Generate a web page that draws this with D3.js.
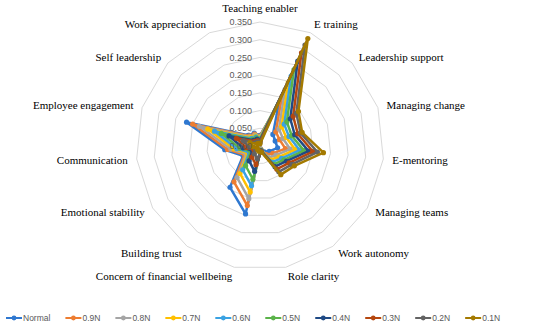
<!DOCTYPE html>
<html>
<head>
<meta charset="utf-8">
<script src="https://cdn.jsdelivr.net/npm/d3@7"></script>
<style>
  body { margin: 0; background: #fff; }
  svg { display: block; }
  .cat { font-family: "Liberation Serif", "Times New Roman", serif; font-size: 11px; fill: #000; }
  .tick { font-family: "Liberation Sans", Arial, sans-serif; font-size: 9px; fill: #595959; }
  .leg { font-family: "Liberation Sans", Arial, sans-serif; font-size: 8.5px; fill: #595959; }
</style>
</head>
<body>
<svg id="chart" width="550" height="327"></svg>
<script>
// categories, clockwise from the top
const categories = ["Teaching enabler", "E training", "Leadership support", "Managing change",
    "E-mentoring", "Managing teams", "Work autonomy", "Role clarity",
    "Concern of financial wellbeing", "Building trust", "Emotional stability",
    "Communication", "Employee engagement", "Self leadership", "Work appreciation"];

const seriesNames = ["Normal", "0.9N", "0.8N", "0.7N", "0.6N", "0.5N", "0.4N", "0.3N", "0.2N", "0.1N"];

// values, one array per series
const normal = [0.030, 0.130, 0.049, 0.045, 0.050, 0.030, 0.020, 0.008, 0.196, 0.144, 0.055, 0.100, 0.218, 0.045, 0.040];
const n09 = [0.028, 0.152, 0.060, 0.058, 0.072, 0.042, 0.030, 0.009, 0.172, 0.125, 0.050, 0.092, 0.200, 0.042, 0.037];
const n08 = [0.026, 0.174, 0.072, 0.068, 0.086, 0.052, 0.040, 0.010, 0.152, 0.110, 0.045, 0.083, 0.180, 0.039, 0.034];
const n07 = [0.024, 0.196, 0.082, 0.078, 0.100, 0.062, 0.048, 0.011, 0.133, 0.096, 0.040, 0.074, 0.155, 0.036, 0.031];
const n06 = [0.021, 0.216, 0.092, 0.086, 0.113, 0.070, 0.056, 0.012, 0.115, 0.083, 0.035, 0.066, 0.135, 0.032, 0.028];
const n05 = [0.019, 0.236, 0.102, 0.094, 0.125, 0.078, 0.064, 0.013, 0.096, 0.069, 0.030, 0.057, 0.115, 0.028, 0.025];
const n04 = [0.016, 0.262, 0.115, 0.103, 0.138, 0.086, 0.072, 0.014, 0.073, 0.052, 0.025, 0.048, 0.092, 0.024, 0.021];
const n03 = [0.013, 0.288, 0.126, 0.112, 0.150, 0.095, 0.081, 0.015, 0.054, 0.039, 0.020, 0.039, 0.070, 0.020, 0.017];
const n02 = [0.010, 0.312, 0.138, 0.120, 0.163, 0.104, 0.090, 0.016, 0.037, 0.027, 0.015, 0.030, 0.050, 0.015, 0.013];
const n01 = [0.006, 0.332, 0.146, 0.125, 0.180, 0.112, 0.100, 0.018, 0.015, 0.012, 0.010, 0.020, 0.030, 0.010, 0.008];

const tickValues = [0, 0.05, 0.10, 0.15, 0.20, 0.25, 0.30, 0.35];

const colors = ["#2F78D0", "#ED7D31", "#A5A5A5", "#FFC000", "#3AA2E2", "#5BB34A",
    "#1F4A85", "#B5470F", "#636363", "#A47A00"];

const series = seriesNames.map((name, i) => ({
    name: name,
    values: [normal, n09, n08, n07, n06, n05, n04, n03, n02, n01][i],
    color: colors[i]
}));

// layout
const cx = 260, cy = 146;
const outerR = 124;

const svg = d3.select("#chart");
const g = svg.append("g").attr("transform", `translate(${cx},${cy})`);

const r = d3.scaleLinear().domain([0, 0.35]).range([0, outerR]);
const angle = d3.scaleLinear().domain([0, categories.length]).range([0, 2 * Math.PI]);

const radial = d3.lineRadial()
    .angle((d, i) => angle(i))
    .radius(d => r(d))
    .curve(d3.curveLinearClosed);

// grid rings
tickValues.slice(1).forEach(t => {
    g.append("path")
        .attr("d", radial(categories.map(() => t)))
        .attr("fill", "none")
        .attr("stroke", "#D9D9D9")
        .attr("stroke-width", 1);
});

// series polygons, normal first so 0.1N ends up on top
series.forEach(s => {
    g.append("path")
        .attr("d", radial(s.values))
        .attr("fill", "none")
        .attr("stroke", s.color)
        .attr("stroke-width", 2.5)
        .attr("stroke-linejoin", "round");

    g.selectAll(null)
        .data(s.values)
        .enter().append("circle")
        .attr("cx", (d, i) => r(d) * Math.sin(angle(i)))
        .attr("cy", (d, i) => -r(d) * Math.cos(angle(i)))
        .attr("r", 2.6)
        .attr("fill", s.color);
});

// value tick labels along the top spoke
g.selectAll(".tick")
    .data(tickValues)
    .enter().append("text")
    .attr("class", "tick")
    .attr("x", -8)
    .attr("y", d => -r(d))
    .attr("dy", "0.35em")
    .attr("text-anchor", "end")
    .text(d => d3.format(".3f")(d));

// category labels
const labelR = 133;
categories.forEach((c, i) => {
    const a = angle(i);
    const x = labelR * Math.sin(a);
    const y = -labelR * Math.cos(a);
    const t = g.append("text")
        .attr("class", "cat")
        .attr("x", x)
        .attr("y", y)
        .text(c);
    if (i === 0) {
        t.attr("text-anchor", "middle").attr("dy", "-0.05em");
    } else {
        t.attr("text-anchor", a < Math.PI ? "start" : "end").attr("dy", "0.35em");
    }
});

// legend along the bottom
const legend = svg.append("g").attr("transform", "translate(6,318)");
let lx = 0;
series.forEach(s => {
    const item = legend.append("g").attr("transform", `translate(${lx},0)`);
    item.append("line")
        .attr("x1", 0).attr("x2", 16)
        .attr("y1", 0).attr("y2", 0)
        .attr("stroke", s.color)
        .attr("stroke-width", 2);
    item.append("circle")
        .attr("cx", 8).attr("cy", 0)
        .attr("r", 2.4)
        .attr("fill", s.color);
    const txt = item.append("text")
        .attr("class", "leg")
        .attr("x", 17)
        .attr("y", 0)
        .attr("dy", "0.35em")
        .text(s.name);
    lx += 17 + txt.node().getComputedTextLength() + 15;
});
</script>
</body>
</html>
